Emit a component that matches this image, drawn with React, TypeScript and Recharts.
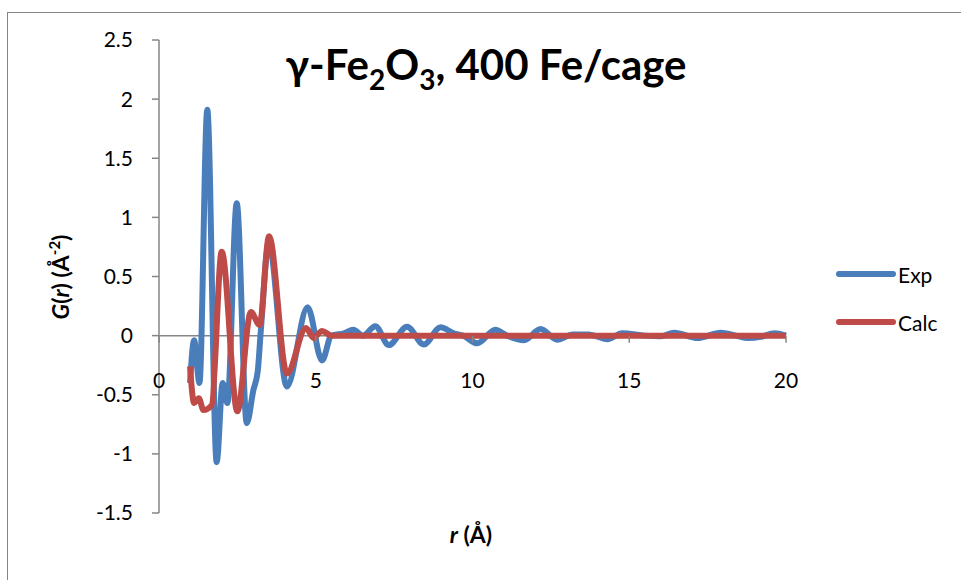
import React from 'react';
import { LineChart, Line, XAxis, YAxis, ReferenceLine } from 'recharts';

// r (Å) and G(r)
const expR = [
  0.99, 1.12, 1.29, 1.54, 1.84, 2.03, 2.18, 2.48, 2.8, 3.01, 3.15, 3.25, 3.5, 4.08, 4.74, 5.2, 5.5, 5.9,
  6.2, 6.5, 6.9, 7.33, 7.91, 8.45, 8.98, 9.4, 9.7, 10.15, 10.73, 11.1, 11.64, 12.17, 12.7, 13.2, 13.7,
  14.3, 14.78, 15.5, 16.0, 16.43, 17.18, 17.92, 18.4, 18.78, 19.2, 19.63, 20.0,
];
const expG = [
  -0.4, -0.04, -0.4, 1.91, -1.07, -0.4, -0.57, 1.12, -0.74, -0.46, -0.3, 0.05, 0.78, -0.43, 0.24, -0.21, 0.0, 0.02,
  0.05, 0.0, 0.08, -0.08, 0.075, -0.075, 0.07, 0.02, 0.0, -0.065, 0.05, 0.0, -0.04, 0.055, -0.035, 0.01, 0.01,
  -0.03, 0.02, 0.0, -0.005, 0.025, -0.02, 0.025, 0.0, -0.02, -0.01, 0.02, 0.0,
];

const calcR = [
  0.99, 1.12, 1.27, 1.42, 1.68, 2.0, 2.5, 2.93, 3.21, 3.51, 4.08, 4.69, 4.93, 5.2, 5.5, 6.0, 10.0, 15.0, 20.0,
];
const calcG = [
  -0.26, -0.57, -0.53, -0.63, -0.59, 0.71, -0.64, 0.2, 0.09, 0.84, -0.32, 0.065, -0.02, 0.04, 0.0, 0.0, 0.0, 0.0, 0.0,
];

const seriesNames = ['Exp', 'Calc'];
const xTicks = [0, 5, 10, 15, 20];
const yTicks = [-1.5, -1, -0.5, 0, 0.5, 1, 1.5, 2, 2.5];

const expData = expR.map((r, i) => ({ r, g: expG[i] }));
const calcData = calcR.map((r, i) => ({ r, g: calcG[i] }));

const W = 961;
const H = 580;
const TOP = 40;
const BOTTOM = 67;
const LEFT = 159;
const RIGHT = 175;
const plotH = H - TOP - BOTTOM;
const zeroY = TOP + (plotH * 2.5) / 4;

const font = 'Lato, "Open Sans", sans-serif';
const axisGray = '#868686';
const blue = '#4a7ebb';
const red = '#be4b48';
const colors = [blue, red];

const XTick = (props: any) => {
  const { x, payload } = props;
  return (
    <g>
      <line x1={x} x2={x} y1={zeroY} y2={zeroY + 7} stroke={axisGray} strokeWidth={1.5} />
      <text x={x} y={388} textAnchor="middle" fontFamily={font} fontSize={21} fill="#000">
        {payload.value}
      </text>
    </g>
  );
};

export default function App() {
  return (
    <div style={{ position: 'absolute', left: 0, top: 0, width: W, height: H, overflow: 'hidden', background: '#fff' }}>
      <div
        style={{
          position: 'absolute',
          left: 7,
          top: 12,
          width: 1200,
          height: 1200,
          border: `1.5px solid ${axisGray}`,
        }}
      />
      <div style={{ position: 'absolute', left: 0, top: 0 }}>
        <LineChart width={W} height={H} margin={{ top: TOP, right: RIGHT, bottom: BOTTOM - 1, left: 0 }}>
          <XAxis
            dataKey="r"
            type="number"
            domain={[0, 20]}
            ticks={xTicks}
            height={1}
            axisLine={false}
            tickLine={false}
            tick={<XTick />}
            allowDuplicatedCategory={false}
          />
          <YAxis
            type="number"
            domain={[-1.5, 2.5]}
            ticks={yTicks}
            width={LEFT}
            axisLine={{ stroke: axisGray, strokeWidth: 1.5 }}
            tickLine={{ stroke: axisGray, strokeWidth: 1.5 }}
            tickSize={7}
            tickMargin={19}
            tick={{ fontFamily: font, fontSize: 21, fill: '#000' }}
          />
          <ReferenceLine y={0} stroke={axisGray} strokeWidth={1.5} />
          <Line
            data={expData}
            dataKey="g"
            name="Exp"
            type="monotone"
            stroke={blue}
            strokeWidth={6}
            dot={false}
            isAnimationActive={false}
          />
          <Line
            data={calcData}
            dataKey="g"
            name="Calc"
            type="monotone"
            stroke={red}
            strokeWidth={6}
            dot={false}
            isAnimationActive={false}
          />
        </LineChart>
      </div>
      {/* legend */}
      <div style={{ position: 'absolute', left: 836, top: 262, fontFamily: font, fontSize: 21, color: '#000' }}>
        {seriesNames.map((name, i) => (
          <div key={name} style={{ display: 'flex', alignItems: 'center', height: 24, marginBottom: i === 0 ? 24 : 0 }}>
            <svg width={60} height={10}>
              <line x1={3} x2={57} y1={5} y2={5} stroke={colors[i]} strokeWidth={6} strokeLinecap="round" />
            </svg>
            <span style={{ marginLeft: 2 }}>{name}</span>
          </div>
        ))}
      </div>
      <svg width={W} height={H} style={{ position: 'absolute', left: 0, top: 0, pointerEvents: 'none' }}>
        <text x={486} y={80} textAnchor="middle" fontFamily={font} fontWeight="bold" fontSize={42} fill="#000">
          γ-Fe<tspan dy={10} fontSize={28}>2</tspan>
          <tspan dy={-10}>O</tspan>
          <tspan dy={10} fontSize={28}>3</tspan>
          <tspan dy={-10}>, 400 Fe/cage</tspan>
        </text>
        <text
          x={0}
          y={0}
          transform="translate(69, 277) rotate(-90)"
          textAnchor="middle"
          fontFamily={font}
          fontWeight="bold"
          fontSize={23}
          fill="#000"
        >
          <tspan fontStyle="italic">G</tspan>(<tspan fontStyle="italic">r</tspan>) (Å
          <tspan dy={-9} fontSize={15}>-2</tspan>
          <tspan dy={9}>)</tspan>
        </text>
        <text x={471} y={543} textAnchor="middle" fontFamily={font} fontWeight="bold" fontSize={23} fill="#000">
          <tspan fontStyle="italic">r</tspan> (Å)
        </text>
      </svg>
    </div>
  );
}
